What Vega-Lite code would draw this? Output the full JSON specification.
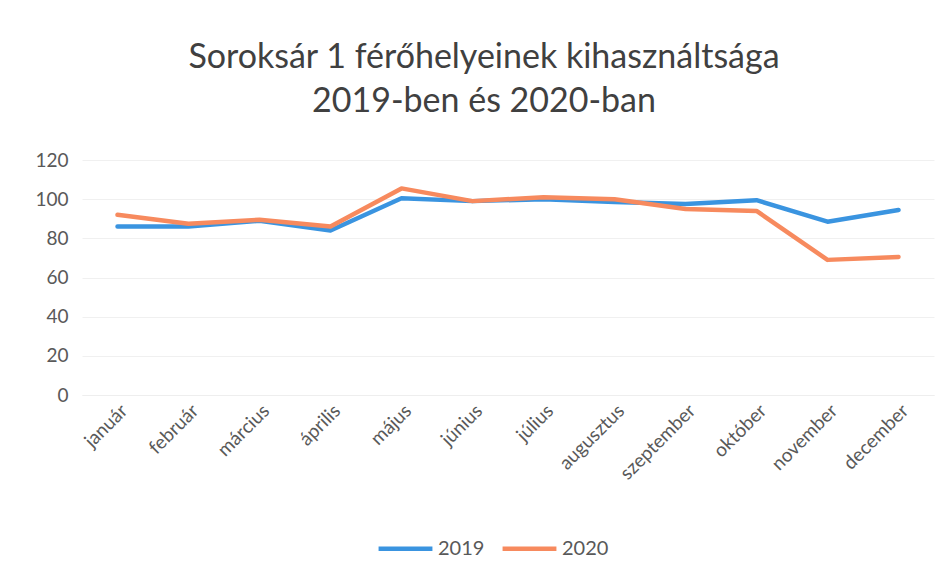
{
  "$schema": "https://vega.github.io/schema/vega-lite/v6.json",
  "width": 852,
  "height": 235,
  "autosize": {"type": "none"},
  "padding": {"left": 82, "top": 160, "right": 18, "bottom": 191},
  "background": "white",
  "config": {"view": {"stroke": null}},
  "title": {
    "text": ["Soroksár 1 férőhelyeinek kihasználtsága", "2019-ben és 2020-ban"],
    "anchor": "middle",
    "frame": "group",
    "dx": -24,
    "offset": 32,
    "font": "Lato",
    "fontSize": 34,
    "fontWeight": "normal",
    "color": "#404040",
    "lineHeight": 44
  },
  "data": {
    "values": [
      {"honap": "január", "ev": "2019", "ertek": 86},
      {"honap": "február", "ev": "2019", "ertek": 86},
      {"honap": "március", "ev": "2019", "ertek": 89},
      {"honap": "április", "ev": "2019", "ertek": 84},
      {"honap": "május", "ev": "2019", "ertek": 100.5},
      {"honap": "június", "ev": "2019", "ertek": 99},
      {"honap": "július", "ev": "2019", "ertek": 100},
      {"honap": "augusztus", "ev": "2019", "ertek": 98.5},
      {"honap": "szeptember", "ev": "2019", "ertek": 97.5},
      {"honap": "október", "ev": "2019", "ertek": 99.5},
      {"honap": "november", "ev": "2019", "ertek": 88.5},
      {"honap": "december", "ev": "2019", "ertek": 94.5},
      {"honap": "január", "ev": "2020", "ertek": 92},
      {"honap": "február", "ev": "2020", "ertek": 87.5},
      {"honap": "március", "ev": "2020", "ertek": 89.5},
      {"honap": "április", "ev": "2020", "ertek": 86},
      {"honap": "május", "ev": "2020", "ertek": 105.5},
      {"honap": "június", "ev": "2020", "ertek": 99},
      {"honap": "július", "ev": "2020", "ertek": 101},
      {"honap": "augusztus", "ev": "2020", "ertek": 100},
      {"honap": "szeptember", "ev": "2020", "ertek": 95},
      {"honap": "október", "ev": "2020", "ertek": 94},
      {"honap": "november", "ev": "2020", "ertek": 69},
      {"honap": "december", "ev": "2020", "ertek": 70.5}
    ]
  },
  "mark": {"type": "line", "strokeWidth": 4.5, "strokeCap": "round", "strokeJoin": "round"},
  "encoding": {
    "x": {
      "field": "honap",
      "type": "nominal",
      "sort": null,
      "scale": {"type": "point", "padding": 0.5},
      "axis": {
        "title": null,
        "labelAngle": -45,
        "labelFont": "Lato",
        "labelFontSize": 19,
        "labelColor": "#595959",
        "labelPadding": 6,
        "ticks": false,
        "domain": true,
        "domainColor": "#eeeeee",
        "grid": false
      }
    },
    "y": {
      "field": "ertek",
      "type": "quantitative",
      "scale": {"domain": [0, 120], "nice": false},
      "axis": {
        "title": null,
        "values": [0, 20, 40, 60, 80, 100, 120],
        "labelFont": "Lato",
        "labelFontSize": 19,
        "labelColor": "#595959",
        "labelPadding": 14,
        "ticks": false,
        "domain": false,
        "grid": true,
        "gridColor": "#f0f0f0",
        "gridWidth": 1
      }
    },
    "color": {
      "field": "ev",
      "type": "nominal",
      "scale": {"domain": ["2019", "2020"], "range": ["#3a94e0", "#f78a5e"]},
      "legend": {
        "title": null,
        "orient": "none",
        "direction": "horizontal",
        "legendX": 294,
        "legendY": 359,
        "symbolType": "stroke",
        "symbolSize": 2900,
        "symbolStrokeWidth": 4.5,
        "labelFont": "Lato",
        "labelFontSize": 20,
        "labelColor": "#595959",
        "labelOffset": 3,
        "columnPadding": 8
      }
    }
  }
}
